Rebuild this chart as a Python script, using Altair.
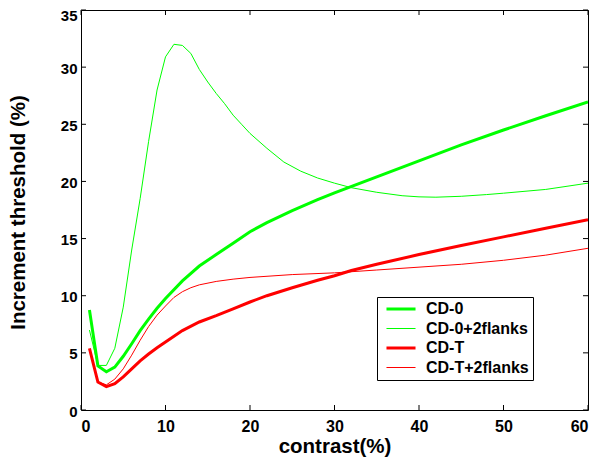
import altair as alt
import pandas as pd

# ---- data ----
cd0_x = [1, 2, 3, 4, 5, 6, 7, 8, 9, 10, 12, 14, 16, 18, 20, 22, 25, 28, 30, 35, 40, 45, 50, 55, 60]
cd0_y = [8.75, 3.85, 3.35, 3.75, 4.7, 5.8, 6.95, 7.95, 8.9, 9.75, 11.3, 12.6, 13.6, 14.6, 15.6,
         16.4, 17.45, 18.4, 19.0, 20.4, 21.8, 23.2, 24.5, 25.75, 26.95]

cd0f_x = [1, 2, 3, 4, 5, 6, 7, 8, 9, 10, 11, 12, 13, 14, 15, 16, 17, 18, 19, 20, 22, 24, 26, 28,
          30, 32, 35, 38, 40, 42, 45, 48, 50, 55, 60]
cd0f_y = [7.0, 3.9, 3.9, 5.4, 9.0, 14.0, 18.5, 23.5, 28.0, 30.9, 32.0, 31.9, 31.2, 29.8, 28.7,
          27.7, 26.8, 25.8, 25.0, 24.2, 22.9, 21.7, 20.9, 20.3, 19.85, 19.45, 19.05, 18.75, 18.65,
          18.62, 18.7, 18.85, 18.97, 19.3, 19.85]

cdt_x = [1, 2, 3, 4, 5, 6, 7, 8, 9, 10, 12, 14, 16, 18, 20, 22, 25, 28, 30, 32, 35, 40, 45, 50, 55, 60]
cdt_y = [5.4, 2.45, 2.05, 2.3, 2.9, 3.6, 4.3, 4.9, 5.45, 5.95, 6.95, 7.7, 8.25, 8.85, 9.45, 10.0,
         10.7, 11.35, 11.75, 12.2, 12.75, 13.6, 14.4, 15.15, 15.9, 16.65]

cdtf_x = [1, 2, 3, 4, 5, 6, 7, 8, 9, 10, 11, 12, 13, 14, 16, 18, 20, 25, 30, 35, 40, 45, 50, 55, 60]
cdtf_y = [5.3, 2.45, 2.2, 2.7, 3.6, 4.8, 6.1, 7.3, 8.3, 9.1, 9.85, 10.35, 10.7, 10.95, 11.25,
          11.45, 11.6, 11.85, 12.0, 12.25, 12.5, 12.75, 13.1, 13.55, 14.15]

series_names = ["CD-0", "CD-0+2flanks", "CD-T", "CD-T+2flanks"]
series_colors = ["#00ff00", "#00ff00", "#ff0000", "#ff0000"]
series_widths = [3, 1, 3, 1]

x_ticks = [0, 10, 20, 30, 40, 50, 60]
y_ticks = [0, 5, 10, 15, 20, 25, 30, 35]

rows = []
for name, xs, ys in zip(series_names, [cd0_x, cd0f_x, cdt_x, cdtf_x], [cd0_y, cd0f_y, cdt_y, cdtf_y]):
    for xv, yv in zip(xs, ys):
        rows.append({"series": name, "x": xv, "y": yv})
df = pd.DataFrame(rows)

W, H = 507, 400
FONT = "Liberation Sans"

xscale = alt.Scale(domain=[0, 60], nice=False, zero=False)
yscale = alt.Scale(domain=[0, 35], nice=False, zero=False)

legend = alt.Legend(title=None, orient="none", legendX=296, legendY=287,
                    symbolType="M-0.42,0H4.42", symbolSize=144, padding=4,
                    labelFontSize=16, labelFont=FONT, labelFontWeight="bold",
                    labelColor="black", labelOffset=29, rowPadding=3.5,
                    labelExpr="datum.label + '\u00a0\u00a0\u00a0'",
                    strokeColor="black", fillColor="white")

lines = alt.Chart(df).mark_line(clip=True).encode(
    x=alt.X("x:Q", scale=xscale,
            axis=alt.Axis(values=x_ticks, title="contrast(%)", ticks=False, tickSize=0,
                          labelPadding=8, grid=False, domain=False,
                          titleY=26, titleFontSize=20.5)),
    y=alt.Y("y:Q", scale=yscale,
            axis=alt.Axis(values=y_ticks, title="Increment threshold (%)", ticks=False, tickSize=0,
                          labelPadding=4, grid=False, domain=False, labelFontSize=15,
                          labelOffset={"condition": {"test": "datum.value === 35", "value": 5}, "value": 1},
                          titleX=-53, titleY=202, titleFontSize=20.5)),
    color=alt.Color("series:N", scale=alt.Scale(domain=series_names, range=series_colors),
                    legend=legend),
    strokeWidth=alt.StrokeWidth("series:N",
                                scale=alt.Scale(type="ordinal", domain=series_names, range=series_widths),
                                legend=legend),
    order="x:Q",
)

xt = pd.DataFrame({"t": x_ticks})
yt = pd.DataFrame({"t": y_ticks})

tick_bottom = alt.Chart(xt).mark_rule(color="black", strokeWidth=1).encode(
    x=alt.X("t:Q", scale=xscale), y=alt.value(H), y2=alt.value(H - 5))
tick_top = alt.Chart(xt).mark_rule(color="black", strokeWidth=1).encode(
    x=alt.X("t:Q", scale=xscale), y=alt.value(0), y2=alt.value(5))
tick_left = alt.Chart(yt).mark_rule(color="black", strokeWidth=1).encode(
    y=alt.Y("t:Q", scale=yscale), x=alt.value(0), x2=alt.value(5))
tick_right = alt.Chart(yt).mark_rule(color="black", strokeWidth=1).encode(
    y=alt.Y("t:Q", scale=yscale), x=alt.value(W), x2=alt.value(W - 5))

chart = alt.layer(lines, tick_bottom, tick_top, tick_left, tick_right).properties(
    width=W, height=H,
    autosize=alt.AutoSizeParams(type="none"),
    padding={"left": 73, "top": 2, "right": 2, "bottom": 47},
).configure_view(
    stroke="black", strokeWidth=1
).configure_axis(
    labelFont=FONT, labelFontSize=16, labelFontWeight="bold", labelColor="black",
    titleFont=FONT, titleFontWeight="bold", titleColor="black",
)

chart.save("out.html", embed_options={"renderer": "svg", "actions": False})
